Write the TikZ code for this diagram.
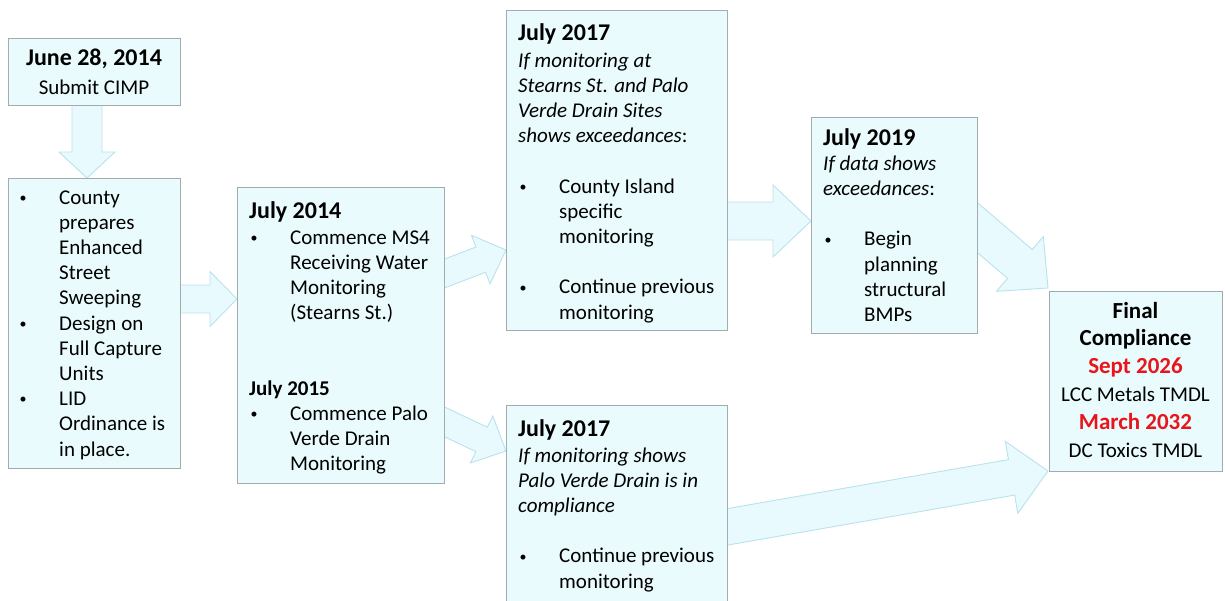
\documentclass[tikz,border=0pt]{standalone}
\usepackage{fontspec}
\setmainfont{Carlito}
\usetikzlibrary{calc}
\pgfdeclarelayer{bg}
\pgfsetlayers{bg,main}
\definecolor{boxfill}{RGB}{234,251,253}
\definecolor{boxline}{RGB}{160,172,176}
\definecolor{arrfill}{RGB}{232,250,253}
\definecolor{arrline}{RGB}{185,226,236}
\definecolor{dred}{RGB}{232,22,28}
\newcommand\bl[1]{\makebox[41pt][l]{\hspace{1.5pt}\raisebox{1.8pt}{\fontsize{14}{14}\selectfont\textbullet}}#1}
\newcommand\ind{\hspace*{41pt}}
\newcommand\hd{\fontsize{24}{25.2}\selectfont\bfseries}
\newcommand\fatarrow[5]{%
  \coordinate (fa-h) at ($(#2)!#5!(#1)$);
  \filldraw[fatarrow] ($(#1)!#3!90:(#2)$) -- ($(fa-h)!#3!-90:(#1)$) -- ($(fa-h)!#4!-90:(#1)$) -- (#2)
    -- ($(fa-h)!#4!90:(#1)$) -- ($(fa-h)!#3!90:(#1)$) -- ($(#1)!#3!-90:(#2)$) -- cycle;}
\tikzset{
  box/.style={draw=boxline, fill=boxfill, line width=1pt, anchor=north west, inner sep=0pt},
  txt/.style={anchor=base west, inner sep=0pt, font=\fontsize{21}{25.2}\selectfont},
  ctxt/.style={anchor=base, inner sep=0pt, font=\fontsize{21}{25.2}\selectfont},
  fatarrow/.style={fill=arrfill, draw=arrline, line width=0.9pt, line join=miter}
}
\begin{document}
\begin{tikzpicture}[x=1pt, y=-1pt]
\clip (0,0) rectangle (1225,600);
% boxes
\node[box, minimum width=172pt, minimum height=67pt] (A) at (8,38) {};
\node[box, minimum width=172pt, minimum height=290pt] (B) at (8,178) {};
\node[box, minimum width=207pt, minimum height=296pt] (C) at (237,187) {};
\node[box, minimum width=221pt, minimum height=320pt] (D) at (506,10) {};
\node[box, minimum width=221pt, minimum height=205pt] (E) at (506,405) {};
\node[box, minimum width=166pt, minimum height=216pt] (F) at (811,117) {};
\node[box, minimum width=173pt, minimum height=180pt] (G) at (1049,291) {};
% texts
\node[ctxt] (tA) at (94,65) {\parbox[t]{170pt}{\centering {\hd June 28, 2014}\\[3.8pt] Submit CIMP}};
\node[txt] (tB) at (18,204) {\parbox[t]{170pt}{\bl{County}\\ \ind prepares\\ \ind Enhanced\\ \ind Street\\ \ind Sweeping\\
  \bl{Design on}\\ \ind Full Capture\\ \ind Units\\ \bl{LID}\\ \ind Ordinance is\\ \ind in place.}};
\node[txt] (tC) at (249,218) {\parbox[t]{220pt}{{\hd July 2014}\\[0.8pt] \bl{Commence MS4}\\ \ind Receiving Water\\ \ind Monitoring\\ \ind (Stearns St.)\\[50.4pt]
  {\bfseries July 2015}\\ \bl{Commence Palo}\\ \ind Verde Drain\\ \ind Monitoring}};
\node[txt] (tD) at (518,40) {\parbox[t]{230pt}{{\hd July 2017}\\[1.8pt] \textit{If monitoring at}\\ \textit{Stearns St. and Palo}\\ \textit{Verde Drain Sites}\\ \textit{shows exceedances}:\\[25.2pt]
  \bl{County Island}\\ \ind specific\\ \ind monitoring\\[25.2pt] \bl{Continue previous}\\ \ind monitoring}};
\node[txt] (tE) at (518,436) {\parbox[t]{230pt}{{\hd July 2017}\\[0.8pt] \textit{If monitoring shows}\\ \textit{Palo Verde Drain is in}\\ \textit{compliance}\\[25.2pt]
  \bl{Continue previous}\\ \ind monitoring}};
\node[txt] (tF) at (823,145) {\parbox[t]{180pt}{{\hd July 2019}\\ \textit{If data shows}\\ \textit{exceedances}:\\[25.2pt]
  \bl{Begin}\\ \ind planning\\ \ind structural\\ \ind BMPs}};
\node[ctxt] (tG) at (1135.5,318) {\parbox[t]{173pt}{\centering\fontsize{21}{27.8}\selectfont
  {\fontsize{23}{27.8}\selectfont\bfseries Final}\\ {\fontsize{23}{27.8}\selectfont\bfseries Compliance}\\
  {\fontsize{23}{27.8}\selectfont\bfseries\color{dred} Sept 2026}\\ LCC Metals TMDL\\
  {\fontsize{23}{27.8}\selectfont\bfseries\color{dred} March 2032}\\ DC Toxics TMDL}};
% arrow end points
\coordinate (sAB) at (87,95);
\coordinate (eAB) at ($(B.north west)+(79,0)$);
\coordinate (sBC) at (170,299);
\coordinate (eBC) at ($(C.north west)+(0,112)$);
\coordinate (sCD) at (430,279);
\coordinate (eCD) at ($(D.north west)+(0,240)$);
\coordinate (sCE) at (430,415);
\coordinate (eCE) at ($(E.north west)+(0,46)$);
\coordinate (sDF) at (715,221);
\coordinate (eDF) at ($(F.north west)+(0,104)$);
\coordinate (sFG) at (965,217);
\coordinate (eFG) at ($(G.north west)+(-1,-3)$);
\coordinate (sEG) at (715,529);
\coordinate (eEG) at ($(G.south west)+(-1,-1)$);
\begin{pgfonlayer}{bg}
\fatarrow{sAB}{eAB}{15pt}{28pt}{26pt}
\fatarrow{sBC}{eBC}{14pt}{27.5pt}{27pt}
\fatarrow{sCD}{eCD}{13.5pt}{26pt}{27pt}
\fatarrow{sCE}{eCE}{13.5pt}{26pt}{27pt}
\fatarrow{sDF}{eDF}{19pt}{36pt}{38pt}
\fatarrow{sFG}{eFG}{19pt}{36pt}{37pt}
\fatarrow{sEG}{eEG}{18pt}{36.5pt}{37pt}
\end{pgfonlayer}
\end{tikzpicture}
\end{document}
